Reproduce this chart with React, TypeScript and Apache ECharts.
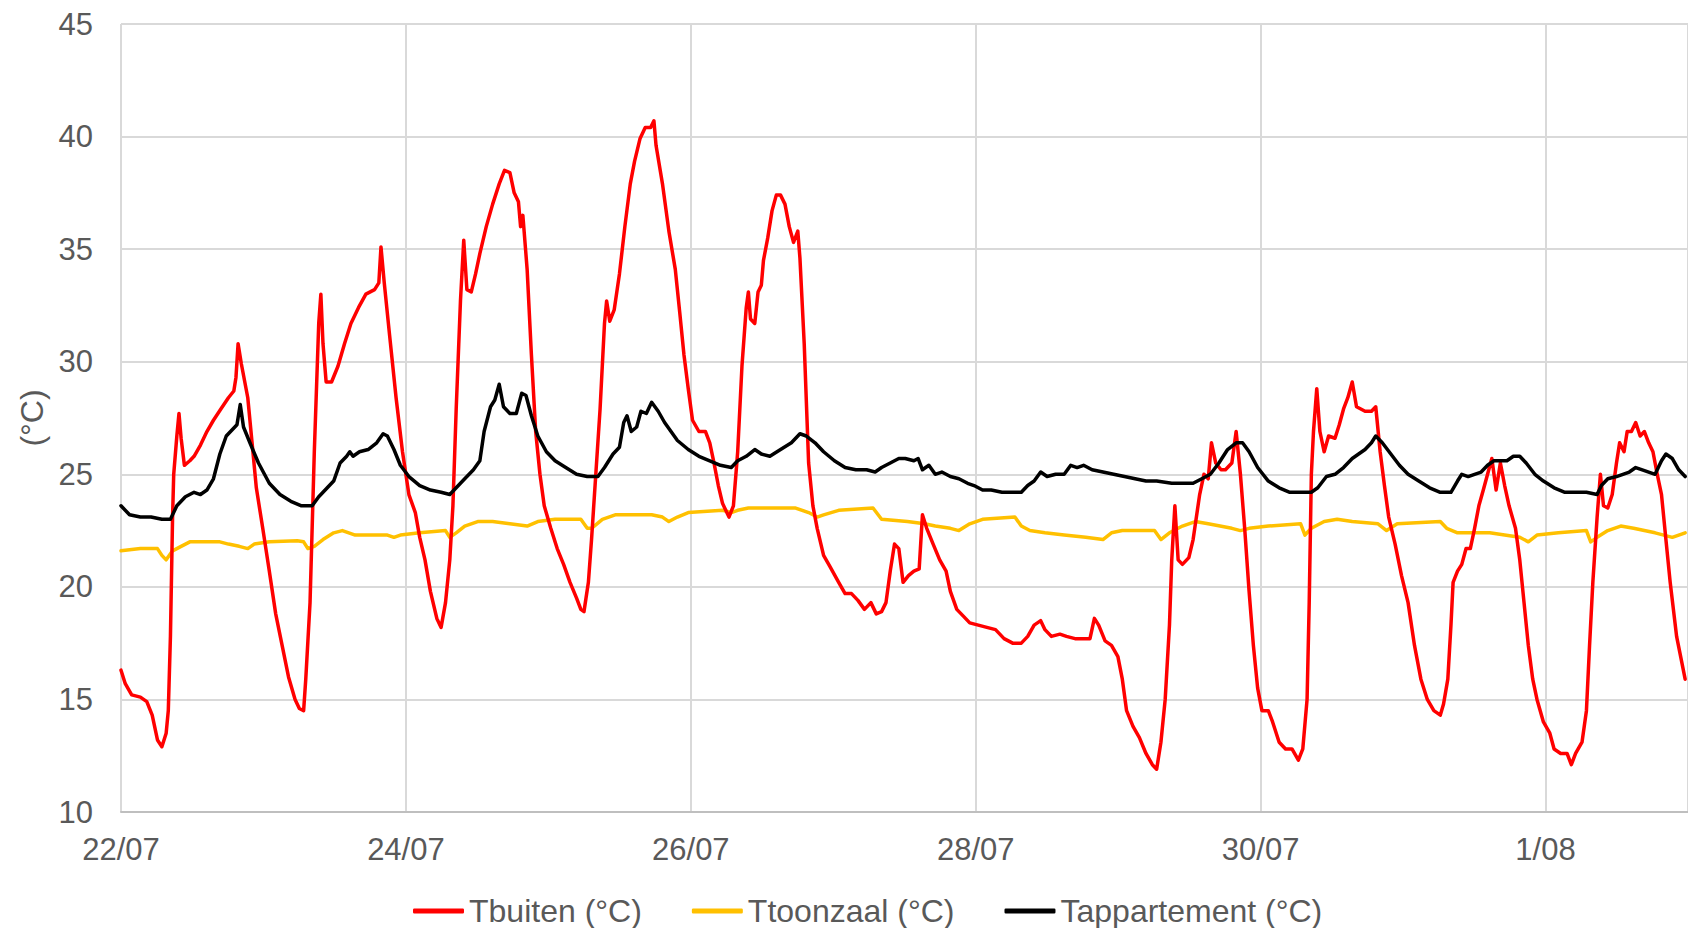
import React, { useEffect, useRef } from "react";
import * as echarts from "echarts";

// x = days since 22/07 00:00, y = °C
const xTickLabels = ["22/07", "24/07", "26/07", "28/07", "30/07", "1/08"];
const seriesNames = ["Tbuiten (°C)", "Ttoonzaal (°C)", "Tappartement (°C)"];

const tbuiten: [number, number][] = [
  [0, 16.3], [0.03, 15.7], [0.075, 15.2], [0.136, 15.1], [0.181, 14.9], [0.219, 14.3], [0.256, 13.2], [0.287, 12.9],
  [0.317, 13.5], [0.332, 14.5], [0.347, 17.8], [0.362, 23.1], [0.37, 25], [0.392, 26.7], [0.407, 27.7], [0.422, 26.6],
  [0.445, 25.4], [0.483, 25.6], [0.513, 25.8], [0.558, 26.3], [0.603, 26.9], [0.649, 27.4], [0.701, 27.9], [0.754, 28.4],
  [0.792, 28.7], [0.807, 29.3], [0.822, 30.8], [0.845, 29.9], [0.89, 28.4], [0.92, 26.4], [0.95, 24.4], [0.995, 22.6],
  [1.041, 20.7], [1.086, 18.8], [1.131, 17.4], [1.176, 16.0], [1.222, 15.0], [1.252, 14.6], [1.282, 14.5], [1.297, 15.9],
  [1.312, 17.6], [1.327, 19.3], [1.357, 26], [1.388, 31.7], [1.403, 33.0], [1.418, 30.8], [1.44, 29.1], [1.478, 29.1],
  [1.523, 29.8], [1.569, 30.8], [1.614, 31.7], [1.667, 32.4], [1.719, 33.0], [1.78, 33.2], [1.81, 33.5], [1.825, 35.1],
  [1.848, 33.5], [1.885, 31.2], [1.931, 28.4], [1.976, 26.0], [2.021, 24.1], [2.066, 23.3], [2.097, 22.2], [2.134, 21.2],
  [2.172, 19.8], [2.217, 18.6], [2.247, 18.2], [2.278, 19.3], [2.308, 21.2], [2.33, 23.6], [2.353, 27.9], [2.383, 32.7],
  [2.406, 35.4], [2.428, 33.2], [2.459, 33.1], [2.489, 33.9], [2.519, 34.8], [2.564, 36.0], [2.609, 37.0], [2.655, 37.9],
  [2.692, 38.5], [2.73, 38.4], [2.76, 37.5], [2.79, 37.1], [2.805, 36.0], [2.821, 36.5], [2.851, 34.1], [2.881, 30.3],
  [2.911, 26.9], [2.941, 25.0], [2.971, 23.6], [3.017, 22.6], [3.062, 21.7], [3.107, 21.0], [3.152, 20.2], [3.198, 19.5],
  [3.228, 19.0], [3.25, 18.9], [3.281, 20.2], [3.303, 22.1], [3.333, 25.0], [3.363, 27.9], [3.394, 31.7], [3.409, 32.7],
  [3.431, 31.8], [3.462, 32.3], [3.499, 33.9], [3.537, 36.0], [3.575, 37.9], [3.605, 38.9], [3.643, 39.9], [3.68, 40.4],
  [3.718, 40.4], [3.741, 40.7], [3.756, 39.6], [3.801, 37.9], [3.846, 35.8], [3.891, 34.1], [3.922, 32.2], [3.952, 30.3],
  [3.982, 28.8], [4.012, 27.4], [4.057, 26.9], [4.103, 26.9], [4.133, 26.4], [4.163, 25.5], [4.193, 24.5], [4.223, 23.7],
  [4.268, 23.1], [4.299, 23.6], [4.329, 26.0], [4.359, 29.8], [4.389, 32.4], [4.404, 33.1], [4.419, 31.9], [4.449, 31.7],
  [4.472, 33.1], [4.495, 33.4], [4.51, 34.5], [4.54, 35.5], [4.57, 36.7], [4.6, 37.4], [4.63, 37.4], [4.661, 37.0],
  [4.691, 36.0], [4.721, 35.3], [4.751, 35.8], [4.766, 34.6], [4.796, 30.8], [4.827, 25.5], [4.857, 23.6], [4.887, 22.6],
  [4.932, 21.4], [4.977, 20.9], [5.038, 20.2], [5.083, 19.7], [5.128, 19.7], [5.173, 19.4], [5.219, 19.0], [5.264, 19.3],
  [5.302, 18.8], [5.339, 18.9], [5.37, 19.3], [5.4, 20.7], [5.43, 21.9], [5.46, 21.7], [5.49, 20.2], [5.528, 20.5],
  [5.566, 20.7], [5.603, 20.8], [5.626, 23.2], [5.656, 22.6], [5.701, 21.9], [5.747, 21.2], [5.792, 20.7], [5.822, 19.8],
  [5.867, 19.0], [5.913, 18.7], [5.958, 18.4], [6.018, 18.3], [6.078, 18.2], [6.139, 18.1], [6.199, 17.7], [6.259, 17.5],
  [6.32, 17.5], [6.365, 17.8], [6.41, 18.3], [6.456, 18.5], [6.486, 18.1], [6.531, 17.8], [6.591, 17.9], [6.637, 17.8],
  [6.697, 17.7], [6.802, 17.7], [6.833, 18.6], [6.863, 18.3], [6.908, 17.6], [6.953, 17.4], [6.998, 16.9], [7.029, 15.9],
  [7.059, 14.5], [7.104, 13.8], [7.149, 13.3], [7.195, 12.6], [7.24, 12.1], [7.27, 11.9], [7.3, 13.1], [7.33, 15.0],
  [7.36, 18.3], [7.376, 21.2], [7.398, 23.6], [7.421, 21.2], [7.451, 21.0], [7.496, 21.3], [7.526, 22.1], [7.572, 24.1],
  [7.602, 25.0], [7.632, 24.8], [7.655, 26.4], [7.685, 25.5], [7.722, 25.2], [7.753, 25.2], [7.798, 25.5], [7.828, 26.9],
  [7.858, 25.0], [7.888, 22.6], [7.919, 19.8], [7.949, 17.4], [7.979, 15.5], [8.009, 14.5], [8.054, 14.5], [8.084, 14.0],
  [8.13, 13.1], [8.175, 12.8], [8.22, 12.8], [8.265, 12.3], [8.296, 12.8], [8.326, 15.0], [8.341, 19.3], [8.356, 25.0],
  [8.371, 26.9], [8.394, 28.8], [8.416, 26.9], [8.446, 26.0], [8.477, 26.7], [8.522, 26.6], [8.552, 27.2], [8.582, 27.9],
  [8.612, 28.4], [8.643, 29.1], [8.673, 28.0], [8.733, 27.8], [8.778, 27.8], [8.808, 28.0], [8.839, 26.0], [8.869, 24.5],
  [8.899, 23.1], [8.944, 21.9], [8.989, 20.5], [9.035, 19.3], [9.08, 17.4], [9.125, 15.9], [9.17, 15.0], [9.216, 14.5],
  [9.261, 14.3], [9.284, 14.8], [9.314, 15.9], [9.336, 18.3], [9.351, 20.2], [9.382, 20.7], [9.412, 21.0], [9.442, 21.7],
  [9.472, 21.7], [9.502, 22.6], [9.532, 23.6], [9.563, 24.3], [9.593, 25.0], [9.623, 25.7], [9.653, 24.3], [9.683, 25.5],
  [9.713, 24.5], [9.744, 23.6], [9.789, 22.6], [9.819, 21.2], [9.849, 19.3], [9.879, 17.4], [9.91, 15.9], [9.94, 15.0],
  [9.985, 14.0], [10.03, 13.5], [10.06, 12.8], [10.106, 12.6], [10.151, 12.6], [10.181, 12.1], [10.211, 12.6], [10.256, 13.1],
  [10.287, 14.5], [10.309, 17.4], [10.332, 20.2], [10.362, 23.1], [10.385, 25.0], [10.407, 23.6], [10.437, 23.5], [10.468, 24.1],
  [10.498, 25.5], [10.52, 26.4], [10.551, 26.0], [10.573, 26.9], [10.603, 26.9], [10.633, 27.3], [10.664, 26.7], [10.694, 26.9],
  [10.724, 26.4], [10.754, 26.0], [10.784, 25.0], [10.814, 24.1], [10.845, 22.1], [10.875, 20.2], [10.92, 17.8], [10.98, 15.9],
];

const ttoonzaal: [number, number][] = [
  [0, 21.6], [0.136, 21.7], [0.256, 21.7], [0.287, 21.4], [0.317, 21.2], [0.362, 21.6], [0.422, 21.8], [0.483, 22.0],
  [0.694, 22.0], [0.754, 21.9], [0.83, 21.8], [0.89, 21.7], [0.935, 21.9], [1.041, 22.0], [1.237, 22.05], [1.282, 22.0],
  [1.312, 21.7], [1.357, 21.8], [1.418, 22.1], [1.493, 22.4], [1.554, 22.5], [1.644, 22.3], [1.87, 22.3], [1.916, 22.2],
  [1.961, 22.3], [2.097, 22.4], [2.278, 22.5], [2.308, 22.2], [2.353, 22.4], [2.413, 22.7], [2.504, 22.9], [2.609, 22.9],
  [2.73, 22.8], [2.851, 22.7], [2.926, 22.9], [3.047, 23.0], [3.228, 23.0], [3.273, 22.6], [3.303, 22.6], [3.379, 23.0],
  [3.469, 23.2], [3.725, 23.2], [3.801, 23.1], [3.846, 22.9], [3.906, 23.1], [3.982, 23.3], [4.223, 23.4], [4.284, 23.3],
  [4.329, 23.4], [4.404, 23.5], [4.736, 23.5], [4.827, 23.3], [4.887, 23.1], [4.932, 23.2], [5.038, 23.4], [5.279, 23.5],
  [5.339, 23.0], [5.52, 22.9], [5.641, 22.8], [5.716, 22.7], [5.822, 22.6], [5.882, 22.5], [5.958, 22.8], [6.048, 23.0],
  [6.275, 23.1], [6.32, 22.7], [6.38, 22.5], [6.486, 22.4], [6.621, 22.3], [6.772, 22.2], [6.893, 22.1], [6.953, 22.4],
  [7.029, 22.5], [7.255, 22.5], [7.3, 22.1], [7.36, 22.4], [7.451, 22.7], [7.541, 22.9], [7.632, 22.8], [7.798, 22.6],
  [7.858, 22.5], [7.919, 22.6], [8.054, 22.7], [8.281, 22.8], [8.311, 22.3], [8.356, 22.6], [8.446, 22.9], [8.537, 23.0],
  [8.643, 22.9], [8.824, 22.8], [8.884, 22.5], [8.959, 22.8], [9.261, 22.9], [9.306, 22.6], [9.382, 22.4], [9.608, 22.4],
  [9.713, 22.3], [9.819, 22.2], [9.879, 22.0], [9.94, 22.3], [10.09, 22.4], [10.287, 22.5], [10.317, 22.0], [10.362, 22.2],
  [10.437, 22.5], [10.528, 22.7], [10.618, 22.6], [10.769, 22.4], [10.89, 22.2], [10.98, 22.4],
];

const tappartement: [number, number][] = [
  [0, 23.6], [0.06, 23.2], [0.136, 23.1], [0.211, 23.1], [0.287, 23.0], [0.347, 23.0], [0.392, 23.6], [0.452, 24.0],
  [0.513, 24.2], [0.558, 24.1], [0.603, 24.3], [0.649, 24.8], [0.694, 25.9], [0.739, 26.7], [0.784, 27.0], [0.814, 27.2],
  [0.837, 28.1], [0.86, 27.1], [0.905, 26.4], [0.965, 25.5], [1.041, 24.6], [1.116, 24.1], [1.192, 23.8], [1.267, 23.6],
  [1.342, 23.6], [1.388, 24.0], [1.448, 24.4], [1.493, 24.7], [1.538, 25.5], [1.584, 25.8], [1.606, 26.0], [1.629, 25.8],
  [1.674, 26.0], [1.735, 26.1], [1.795, 26.4], [1.84, 26.8], [1.87, 26.7], [1.916, 26.1], [1.961, 25.4], [2.021, 24.9],
  [2.097, 24.5], [2.172, 24.3], [2.247, 24.2], [2.308, 24.1], [2.353, 24.4], [2.413, 24.8], [2.474, 25.2], [2.519, 25.6],
  [2.549, 26.9], [2.594, 28.0], [2.624, 28.3], [2.655, 29.0], [2.685, 28.0], [2.73, 27.7], [2.775, 27.7], [2.813, 28.6],
  [2.843, 28.5], [2.881, 27.6], [2.926, 26.7], [2.986, 26.0], [3.047, 25.6], [3.122, 25.3], [3.198, 25.0], [3.273, 24.9],
  [3.348, 24.9], [3.394, 25.3], [3.454, 25.9], [3.499, 26.2], [3.529, 27.3], [3.552, 27.6], [3.582, 26.9], [3.62, 27.1],
  [3.65, 27.8], [3.688, 27.7], [3.725, 28.2], [3.771, 27.8], [3.816, 27.3], [3.861, 26.9], [3.906, 26.5], [3.982, 26.1],
  [4.057, 25.8], [4.133, 25.6], [4.208, 25.4], [4.284, 25.3], [4.329, 25.6], [4.389, 25.8], [4.449, 26.1], [4.495, 25.9],
  [4.555, 25.8], [4.63, 26.1], [4.706, 26.4], [4.766, 26.8], [4.811, 26.7], [4.872, 26.4], [4.932, 26.0], [5.008, 25.6],
  [5.083, 25.3], [5.158, 25.2], [5.234, 25.2], [5.294, 25.1], [5.339, 25.3], [5.4, 25.5], [5.46, 25.7], [5.505, 25.7],
  [5.566, 25.6], [5.596, 25.7], [5.626, 25.2], [5.671, 25.4], [5.716, 25.0], [5.762, 25.1], [5.822, 24.9], [5.882, 24.8],
  [5.943, 24.6], [5.988, 24.5], [6.048, 24.3], [6.109, 24.3], [6.184, 24.2], [6.32, 24.2], [6.365, 24.5], [6.41, 24.7],
  [6.456, 25.1], [6.501, 24.9], [6.561, 25.0], [6.621, 25.0], [6.667, 25.4], [6.712, 25.3], [6.757, 25.4], [6.817, 25.2],
  [6.893, 25.1], [6.968, 25.0], [7.044, 24.9], [7.119, 24.8], [7.195, 24.7], [7.27, 24.7], [7.376, 24.6], [7.526, 24.6],
  [7.587, 24.8], [7.647, 25.0], [7.707, 25.5], [7.768, 26.1], [7.828, 26.4], [7.873, 26.4], [7.919, 26.0], [7.979, 25.3],
  [8.054, 24.7], [8.13, 24.4], [8.205, 24.2], [8.356, 24.2], [8.401, 24.4], [8.462, 24.9], [8.522, 25.0], [8.582, 25.3],
  [8.643, 25.7], [8.688, 25.9], [8.733, 26.1], [8.778, 26.4], [8.808, 26.7], [8.854, 26.4], [8.914, 25.9], [8.974, 25.4],
  [9.035, 25.0], [9.11, 24.7], [9.186, 24.4], [9.261, 24.2], [9.336, 24.2], [9.382, 24.7], [9.412, 25.0], [9.457, 24.9],
  [9.502, 25.0], [9.548, 25.1], [9.593, 25.4], [9.638, 25.6], [9.729, 25.6], [9.774, 25.8], [9.819, 25.8], [9.864, 25.5],
  [9.925, 25.0], [9.985, 24.7], [10.06, 24.4], [10.136, 24.2], [10.287, 24.2], [10.362, 24.1], [10.392, 24.5], [10.437, 24.8],
  [10.498, 24.9], [10.543, 25.0], [10.588, 25.1], [10.633, 25.3], [10.679, 25.2], [10.724, 25.1], [10.769, 25.0], [10.814, 25.6],
  [10.845, 25.9], [10.89, 25.7], [10.935, 25.2], [10.98, 24.9],
];

const FONT = "'Liberation Sans', Arial, sans-serif";
const TEXT = "#595959";

export default function App() {
  const ref = useRef<HTMLDivElement>(null);
  useEffect(() => {
    if (!ref.current) return;
    const chart = echarts.init(ref.current, undefined, { renderer: "svg" });
    const mk = (name: string, data: [number, number][], color: string, z: number) => ({
      name,
      type: "line",
      data,
      symbol: "none",
      showSymbol: false,
      z,
      lineStyle: { color, width: 3.5, join: "round", cap: "round" },
      itemStyle: { color },
    });
    chart.setOption({
      animation: false,
      backgroundColor: "#ffffff",
      textStyle: { fontFamily: FONT },
      grid: { left: 121, right: 0, top: 24, bottom: 116, containLabel: false },
      legend: {
        left: 408,
        top: 890,
        icon: "roundRect",
        itemWidth: 51,
        itemHeight: 5,
        itemGap: 50,
        textStyle: { fontSize: 32, lineHeight: 32, color: TEXT, fontFamily: FONT },
        data: seriesNames,
      },
      xAxis: {
        type: "value",
        min: 0,
        max: 11,
        interval: 2,
        axisLine: { show: true, lineStyle: { color: "#BFBFBF", width: 2 } },
        axisTick: { show: false },
        splitLine: { show: true, lineStyle: { color: "#D9D9D9", width: 2 } },
        axisLabel: {
          color: TEXT,
          fontSize: 31,
          fontFamily: FONT,
          margin: 22,
          showMaxLabel: false,
          formatter: (v: number) => xTickLabels[Math.round(v / 2)] ?? "",
        },
      },
      yAxis: {
        type: "value",
        min: 10,
        max: 45,
        interval: 5,
        name: "(°C)",
        nameLocation: "middle",
        nameRotate: 90,
        nameGap: 72,
        nameTextStyle: { color: TEXT, fontSize: 32, fontFamily: FONT },
        axisLine: { show: false },
        axisTick: { show: false },
        splitLine: { show: true, lineStyle: { color: "#D9D9D9", width: 2 } },
        axisLabel: { color: TEXT, fontSize: 31, fontFamily: FONT, margin: 28 },
      },
      series: [
        mk(seriesNames[0], tbuiten, "#FF0000", 3),
        mk(seriesNames[1], ttoonzaal, "#FFC000", 2),
        mk(seriesNames[2], tappartement, "#000000", 4),
      ],
    });
    return () => chart.dispose();
  }, []);
  return (
    <div
      ref={ref}
      style={{ position: "fixed", left: 0, top: 0, width: 1688, height: 928, background: "#fff" }}
    />
  );
}
